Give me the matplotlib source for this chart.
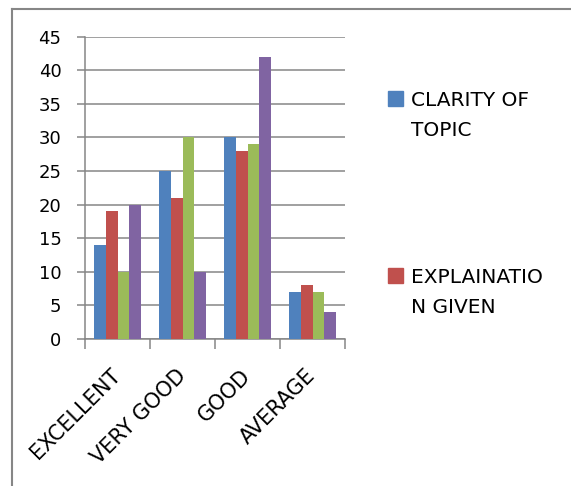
import matplotlib.pyplot as plt
import numpy as np
from matplotlib.lines import Line2D
from matplotlib.patches import Rectangle
from matplotlib.transforms import ScaledTranslation

plt.rcParams['font.family'] = ['DejaVu Sans']

categories = ['EXCELLENT', 'VERY GOOD', 'GOOD', 'AVERAGE']
clarity = [14, 25, 30, 7]
explanation = [19, 21, 28, 8]
series3 = [10, 30, 29, 7]
series4 = [20, 10, 42, 4]
yticks = [0, 5, 10, 15, 20, 25, 30, 35, 40, 45]
legend_labels = ['CLARITY OF\nTOPIC', 'EXPLAINATIO\nN GIVEN']

colors = ['#4F81BD', '#C0504D', '#9BBB59', '#8064A2']
grey = '#868686'
W, H = 571, 486

fig = plt.figure(figsize=(W / 100, H / 100), dpi=100)
ax = fig.add_axes([85 / W, 1 - 339 / H, 260 / W, 302.5 / H])

x = np.arange(len(categories))
w = 1 / 5.5
for i, vals in enumerate([clarity, explanation, series3, series4]):
    ax.bar(x + (i - 1.5) * w, vals, width=w, color=colors[i], zorder=3)

ax.set_xlim(-0.5, len(categories) - 0.5)
ax.set_ylim(0, 45)
ax.set_yticks(yticks)
ax.yaxis.grid(True, color=grey, linewidth=1.1, zorder=0)
ax.tick_params(axis='y', length=6, width=1.1, color=grey, labelsize=13, pad=11)

ax.set_xticks(np.arange(len(categories) + 1) - 0.5)
ax.set_xticklabels([])
ax.tick_params(axis='x', which='major', length=7, width=1.1, color=grey)
ax.set_xticks(x, minor=True)
ax.set_xticklabels(categories, minor=True, rotation=45, ha='right',
                   rotation_mode='anchor', fontsize=15)
ax.tick_params(axis='x', which='minor', length=0, pad=19)
shift = ScaledTranslation(-0.07, 0, fig.dpi_scale_trans)
for lab in ax.get_xticklabels(minor=True):
    lab.set_transform(lab.get_transform() + shift)

for s in ['top', 'right']:
    ax.spines[s].set_visible(False)
for s in ['left', 'bottom']:
    ax.spines[s].set_color(grey)
    ax.spines[s].set_linewidth(1.1)

# legend, laid out like the spreadsheet one (only two entries fit)
for (ytop, label), c in zip([(91, legend_labels[0]), (268, legend_labels[1])], colors):
    fig.add_artist(Rectangle((388 / W, 1 - (ytop + 15) / H), 15 / W, 15 / H,
                             transform=fig.transFigure, color=c))
    fig.text(411 / W, 1 - ytop / H, label, va='top', ha='left',
             fontsize=14.5, linespacing=1.7)

# chart border (only top and left visible)
fig.add_artist(Line2D([12 / W, 1], [1 - 9 / H] * 2, color=grey, linewidth=1.5))
fig.add_artist(Line2D([12 / W] * 2, [0, 1 - 9 / H], color=grey, linewidth=1.5))

plt.savefig('out.png', dpi=100)
